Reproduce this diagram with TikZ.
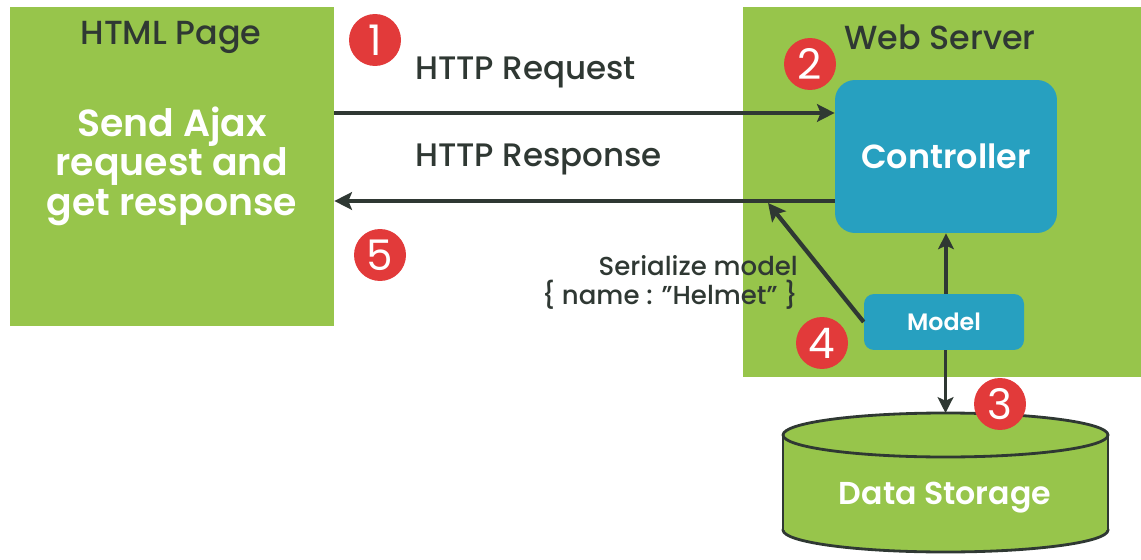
\documentclass[tikz,border=0pt]{standalone}
\usepackage{fontspec}
\setmainfont{Poppins}[BoldFont={Poppins SemiBold}]
\newfontfamily\medfont{Poppins Medium}
\usepackage{xcolor}
\usepackage{tikz}
\usetikzlibrary{calc,arrows.meta}
\definecolor{leaf}{HTML}{97C54B}
\definecolor{ink}{HTML}{2F3833}
\definecolor{teal}{HTML}{27A0C0}
\definecolor{badgered}{HTML}{E23A3A}
\tikzset{
  panel/.style={fill=leaf, inner sep=0pt},
  part/.style={fill=teal, rounded corners=0.4cm, inner sep=0pt},
  flow/.style={draw=ink, line width=2.4pt, -{Stealth[length=10pt,width=10pt,inset=2pt]}},
  thinflow/.style={draw=ink, line width=1.8pt, -{Stealth[length=9pt,width=9pt,inset=2pt]}},
  dbline/.style={draw=ink, line width=1.6pt},
  badge/.style={circle, fill=badgered, text=white, inner sep=0pt, minimum size=1.04cm, font=\fontsize{24}{24}\selectfont},
  head/.style={text=ink, font=\medfont\fontsize{19}{19}\selectfont},
  lab/.style={text=ink, font=\medfont\fontsize{18.5}{18.5}\selectfont},
  whitelab/.style={text=white, font=\bfseries\fontsize{18}{18}\selectfont},
}

\begin{document}
\begin{tikzpicture}[x=0.02cm, y=-0.02cm]
  \useasboundingbox (0,0) rectangle (1141,560);

  % the two green panels
  \node[panel, minimum width=6.48cm, minimum height=6.38cm] (html) at (172,166.5) {};
  \node[panel, minimum width=7.96cm, minimum height=7.4cm] (web) at (942,192) {};

  \node[head] (htmlt) at (171,37) {HTML Page};
  \node[head] (webt) at (940,37) {Web Server};
  \node[whitelab, align=center, font=\bfseries\fontsize{21.5}{22.5}\selectfont] (ajax) at (172,166) {Send Ajax\\request and\\get response};

  % server parts
  \node[part, minimum width=4.44cm, minimum height=3.06cm] (ctrl) at (946,156.5) {};
  \node[whitelab, font=\bfseries\fontsize{19}{19}\selectfont] at (ctrl) {Controller};
  \node[part, rounded corners=0.2cm, minimum width=3.2cm, minimum height=1.12cm] (model) at (944,322) {};
  \node[whitelab, font=\bfseries\fontsize{13.5}{13.5}\selectfont] at (model) {Model};

  % data storage (cylinder)
  \fill[leaf] (783,435) rectangle (1108,530);
  \draw[dbline, fill=leaf] (945.5,530) ellipse [x radius=162.5, y radius=22];
  \fill[leaf] (784,435) rectangle (1107,530);
  \draw[dbline] (783,435) -- (783,530);
  \draw[dbline] (1108,435) -- (1108,530);
  \draw[dbline, fill=leaf] (945.5,435) ellipse [x radius=162.5, y radius=22];
  \coordinate (dbtop) at (945.5,413);
  \node[whitelab] (db) at (945,498) {Data Storage};

  % request and response
  \coordinate (reqY) at (0,113);
  \coordinate (resY) at (0,201);
  \draw[flow] (html.east |- reqY) -- (ctrl.west |- reqY);
  \draw[flow] (ctrl.west |- resY) -- (html.east |- resY);
  \node[lab, anchor=west] (req) at (409,72) {HTTP Request};
  \node[lab, anchor=west] (res) at (409,159) {HTTP Response};

  % model links
  \coordinate (ser) at (768,203);
  \draw[flow] (model.west) -- (ser);
  \draw[thinflow] (model.north -| ctrl.south) -- (ctrl.south);
  \draw[thinflow] (model.south -| dbtop) -- (dbtop);
  \node[lab, anchor=east, align=right, font=\medfont\fontsize{14.8}{16.5}\selectfont] (sert) at (804,282) {Serialize model\\\{ name : ”Helmet” \}};

  % step badges
  \node[badge] (b1) at (375,40) {1};
  \node[badge] (b2) at (810,64) {2};
  \node[badge] (b3) at (1000,404) {3};
  \node[badge] (b4) at (822,343) {4};
  \node[badge] (b5) at (380,255) {5};
\end{tikzpicture}
\end{document}
